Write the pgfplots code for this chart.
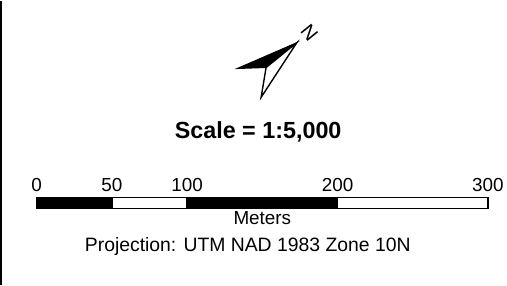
\documentclass[border=0pt]{standalone}
\usepackage{fontspec}
\setmainfont{Liberation Sans}
\usepackage{pgfplots}
\pgfplotsset{compat=1.18}
\begin{document}
\begin{tikzpicture}
\begin{axis}[
  width=507bp, height=286bp, scale only axis,
  xmin=-24.42, xmax=310.23, ymin=0, ymax=286,
  y dir=reverse, hide axis, clip=false,
]
\path (rel axis cs:0,0) rectangle (rel axis cs:1,1);
% left frame line
\addplot[black, line width=2bp] coordinates {(-23.76,0) (-23.76,286)};
% scale bar segments (meters)
\addplot[draw=black, fill=black, line width=1.4bp] coordinates {(0,198.2) (50,198.2) (50,209.3) (0,209.3)} -- cycle;
\addplot[draw=black, fill=white, line width=1.4bp] coordinates {(50,198.2) (100,198.2) (100,209.3) (50,209.3)} -- cycle;
\addplot[draw=black, fill=black, line width=1.4bp] coordinates {(100,198.2) (200,198.2) (200,209.3) (100,209.3)} -- cycle;
\addplot[draw=black, fill=white, line width=1.4bp] coordinates {(200,198.2) (300,198.2) (300,209.3) (200,209.3)} -- cycle;
% north arrow
\addplot[draw=black, fill=black, line width=1bp] coordinates {(172.9,42) (133.3,68) (152.5,67)} -- cycle;
\addplot[draw=black, fill=white, line width=1.4bp, line join=miter] coordinates {(172.9,42) (152.5,67) (149.2,97)} -- cycle;
\node[rotate=-51, font=\fontsize{20bp}{24bp}\selectfont] at (axis cs:181.3,31.7) {N};
% labels
\foreach \v in {0,50,100,200,300} {
  \edef\temp{\noexpand\node[anchor=base, font=\noexpand\fontsize{19bp}{22bp}\noexpand\selectfont] at (axis cs:\v,191.7) {\v};}
  \temp
}
\node[anchor=base, font=\fontsize{19bp}{22bp}\selectfont] at (axis cs:150,225.5) {Meters};
\node[anchor=base, font=\fontsize{19.5bp}{23bp}\selectfont] at (axis cs:140.3,252) {Projection: UTM NAD 1983 Zone 10N};
\node[anchor=base, font=\fontsize{23.5bp}{28bp}\selectfont\bfseries] at (axis cs:147.2,138.5) {Scale = 1:5,000};
\end{axis}
\end{tikzpicture}
\end{document}
